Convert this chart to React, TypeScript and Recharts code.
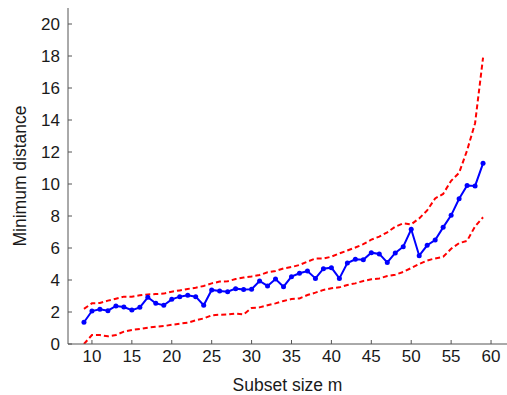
import { LineChart, Line, XAxis, YAxis } from 'recharts';

const subsetSizes = [
  9, 10, 11, 12, 13, 14, 15, 16, 17, 18, 19, 20, 21, 22, 23, 24, 25, 26, 27, 28, 29,
  30, 31, 32, 33, 34, 35, 36, 37, 38, 39, 40, 41, 42, 43, 44, 45, 46, 47, 48, 49,
  50, 51, 52, 53, 54, 55, 56, 57, 58, 59,
];

const minDistance = [
  1.36, 2.06, 2.17, 2.08, 2.38, 2.31, 2.12, 2.29, 2.92, 2.54, 2.42, 2.79, 2.96, 3.04, 2.96, 2.42, 3.38, 3.31, 3.27, 3.46, 3.4,
  3.42, 3.94, 3.63, 4.06, 3.58, 4.21, 4.42, 4.56, 4.1, 4.71, 4.77, 4.1, 5.06, 5.29, 5.27, 5.71, 5.63, 5.1, 5.69, 6.08,
  7.17, 5.52, 6.17, 6.5, 7.29, 8.04, 9.08, 9.9, 9.88, 11.29,
];

const upperBound = [
  2.2, 2.54, 2.56, 2.71, 2.83, 2.96, 2.96, 3.04, 3.1, 3.12, 3.15, 3.27, 3.35, 3.44, 3.52, 3.63, 3.79, 3.9, 3.92, 4.06, 4.15,
  4.22, 4.31, 4.48, 4.56, 4.72, 4.81, 4.94, 5.15, 5.34, 5.34, 5.46, 5.66, 5.84, 6.03, 6.24, 6.52, 6.71, 6.98, 7.33, 7.54,
  7.48, 7.85, 8.35, 9.1, 9.38, 10.2, 10.7, 12.1, 13.8, 17.9,
];

const lowerBound = [
  0.0, 0.56, 0.56, 0.48, 0.56, 0.77, 0.88, 0.94, 1.02, 1.08, 1.12, 1.2, 1.27, 1.33, 1.48, 1.6, 1.79, 1.83, 1.85, 1.9, 1.85,
  2.25, 2.29, 2.42, 2.54, 2.69, 2.81, 2.85, 3.06, 3.21, 3.38, 3.48, 3.54, 3.69, 3.79, 3.94, 4.04, 4.1, 4.25, 4.33, 4.5,
  4.75, 5.0, 5.22, 5.35, 5.45, 5.95, 6.3, 6.45, 7.35, 7.92,
];

const xTicks = [10, 15, 20, 25, 30, 35, 40, 45, 50, 55, 60];
const yTicks = [0, 2, 4, 6, 8, 10, 12, 14, 16, 18, 20];

const data = subsetSizes.map((m, i) => ({
  m,
  dist: minDistance[i],
  upper: upperBound[i],
  lower: lowerBound[i],
}));

const axisColor = '#555';
const font = { fontFamily: 'Liberation Sans, Arial, sans-serif', fontSize: 17, fill: '#1a1a1a' };

export default function App() {
  return (
    <div style={{ position: 'fixed', left: 0, top: 0, background: '#fff' }}>
      <LineChart width={507} height={395} data={data} margin={{ top: 8, right: 0, bottom: 0, left: 8 }}>
        <XAxis
          dataKey="m"
          type="number"
          domain={[7, 62]}
          ticks={xTicks}
          allowDataOverflow
          height={51}
          stroke={axisColor}
          tickSize={-4}
          tickMargin={10}
          tick={font}
          label={{ value: 'Subset size m', position: 'insideBottom', offset: 4, style: { ...font, fontSize: 17.5 } }}
        />
        <YAxis
          type="number"
          domain={[0, 21]}
          ticks={yTicks}
          allowDataOverflow
          width={60}
          stroke={axisColor}
          tickSize={-4}
          tickMargin={12}
          tick={font}
          label={{
            value: 'Minimum distance',
            angle: -90,
            position: 'insideLeft',
            offset: 12,
            style: { ...font, fontSize: 17.5, textAnchor: 'middle' },
          }}
        />
        <Line
          dataKey="upper"
          stroke="#ff0000"
          strokeWidth={2}
          strokeDasharray="5 3"
          dot={false}
          type="linear"
          isAnimationActive={false}
        />
        <Line
          dataKey="lower"
          stroke="#ff0000"
          strokeWidth={2}
          strokeDasharray="5 3"
          dot={false}
          type="linear"
          isAnimationActive={false}
        />
        <Line
          dataKey="dist"
          stroke="#0000ff"
          strokeWidth={2}
          dot={{ r: 2.5, fill: '#0000ff', stroke: '#0000ff', strokeWidth: 0 }}
          type="linear"
          isAnimationActive={false}
        />
      </LineChart>
    </div>
  );
}
